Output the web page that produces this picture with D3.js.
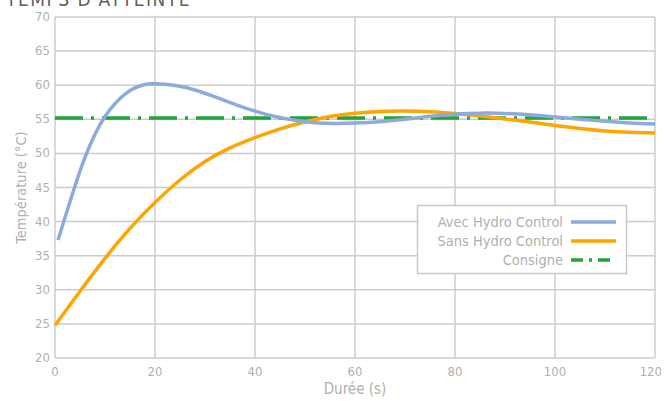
<!DOCTYPE html>
<html>
<head>
<meta charset="utf-8">
<script src="https://cdn.jsdelivr.net/npm/d3@7"></script>
<style>
    body { margin: 0; background: #fff; }
    text { font-family: "DejaVu Sans Condensed", "Liberation Sans Narrow", sans-serif; }
</style>
</head>
<body>
<script>
"use strict";

// values
let avecT = [0.6, 2, 4, 6, 8, 10, 12, 14, 16, 18, 20, 24, 28, 32, 36, 40, 44, 48, 52, 56, 60, 65, 70, 75, 80, 85, 90, 95, 100, 105, 110, 115, 120];
let avecV = [37.3, 40.6, 45.2, 49.4, 52.8, 55.4, 57.3, 58.7, 59.6, 60.1, 60.2, 59.95, 59.3, 58.3, 57.2, 56.2, 55.4, 54.85, 54.5, 54.4, 54.45, 54.65, 55.0, 55.45, 55.75, 55.9, 55.85, 55.65, 55.35, 55.0, 54.7, 54.45, 54.3];

let sansT = [0, 5, 10, 15, 20, 25, 30, 35, 40, 45, 50, 55, 60, 65, 70, 75, 80, 85, 90, 95, 100, 105, 110, 115, 120];
let sansV = [24.8, 29.8, 34.6, 39.0, 42.8, 46.1, 48.8, 50.8, 52.3, 53.6, 54.6, 55.4, 55.9, 56.15, 56.2, 56.1, 55.85, 55.5, 55.05, 54.6, 54.1, 53.65, 53.3, 53.1, 53.0];

let consigneT = [0, 120];
let consigneV = [55.2, 55.2];

let xTicks = [0, 20, 40, 60, 80, 100, 120];
let yTicks = [20, 25, 30, 35, 40, 45, 50, 55, 60, 65, 70];

let seriesNames = ["Avec Hydro Control", "Sans Hydro Control", "Consigne"];

(function () {

    let width = 664, height = 401,
        margin = {top: 17, right: 9, bottom: 43, left: 55};

    let grey = "#b0b0b0", gridColor = "#cccccc";

    let svg = d3.select("body").append("svg")
        .attr("width", width)
        .attr("height", height);

    let x = d3.scaleLinear().domain([0, 120]).range([margin.left, width - margin.right]);
    let y = d3.scaleLinear().domain([20, 70]).range([height - margin.bottom, margin.top]);

    // title, cut off at the top like in the original
    svg.append("text")
        .attr("x", 6)
        .attr("y", 6)
        .attr("fill", "#606060")
        .style("font-size", "19px")
        .style("letter-spacing", "1.5px")
        .text("TEMPS D'ATTEINTE");

    // grid
    svg.append("g").selectAll("line")
        .data(yTicks)
        .enter().append("line")
        .attr("x1", x(0)).attr("x2", x(120))
        .attr("y1", d => y(d)).attr("y2", d => y(d))
        .attr("stroke", gridColor)
        .attr("stroke-width", 1.5);

    svg.append("g").selectAll("line")
        .data(xTicks)
        .enter().append("line")
        .attr("x1", d => x(d)).attr("x2", d => x(d))
        .attr("y1", y(20)).attr("y2", y(70))
        .attr("stroke", gridColor)
        .attr("stroke-width", 1.5);

    // tick labels
    svg.append("g").selectAll("text")
        .data(yTicks)
        .enter().append("text")
        .attr("x", x(0) - 5)
        .attr("y", d => y(d) + 4)
        .attr("text-anchor", "end")
        .attr("fill", grey)
        .style("font-size", "13px")
        .text(d => d);

    svg.append("g").selectAll("text")
        .data(xTicks)
        .enter().append("text")
        .attr("x", d => x(d))
        .attr("y", y(20) + 18)
        .attr("text-anchor", d => d === 120 ? "end" : "middle")
        .attr("dx", d => d === 120 ? 7 : 0)
        .attr("fill", grey)
        .style("font-size", "13px")
        .text(d => d);

    svg.append("text")
        .attr("x", (x(0) + x(120)) / 2)
        .attr("y", 394)
        .attr("text-anchor", "middle")
        .attr("fill", grey)
        .style("font-size", "15px")
        .text("Durée (s)");

    svg.append("text")
        .attr("transform", "translate(26," + (y(45)) + ") rotate(-90)")
        .attr("text-anchor", "middle")
        .attr("fill", grey)
        .style("font-size", "14.5px")
        .text("Température (°C)");

    let line = d3.line()
        .x(d => x(d[0]))
        .y(d => y(d[1]))
        .curve(d3.curveNatural);

    let series = [
        {t: avecT, v: avecV, color: "#8eaadb", dash: null},
        {t: sansT, v: sansV, color: "#ffa500", dash: null},
        {t: consigneT, v: consigneV, color: "#21a43a", dash: "28,8,3,8"}
    ];

    // consigne first so the curves go over it
    [series[2], series[1], series[0]].forEach(function (s) {
        svg.append("path")
            .datum(d3.zip(s.t, s.v))
            .attr("d", line)
            .attr("fill", "none")
            .attr("stroke", s.color)
            .attr("stroke-width", 3.5)
            .attr("stroke-dasharray", s.dash);
    });

    // legend
    let lg = svg.append("g");
    lg.append("rect")
        .attr("x", 417.5).attr("y", 205.5)
        .attr("width", 209).attr("height", 68)
        .attr("fill", "#fff")
        .attr("stroke", "#c8c8c8")
        .attr("stroke-width", 1.5);

    series.forEach(function (s, i) {
        let yy = 222 + i * 19;
        lg.append("text")
            .attr("x", 563)
            .attr("y", yy + 5)
            .attr("text-anchor", "end")
            .attr("fill", grey)
            .style("font-size", "14.5px")
            .text(seriesNames[i]);
        lg.append("line")
            .attr("x1", 571).attr("x2", 616)
            .attr("y1", yy).attr("y2", yy)
            .attr("stroke", s.color)
            .attr("stroke-width", 3.5)
            .attr("stroke-dasharray", s.dash ? "12,6,3,6" : null);
    });

})();
</script>
</body>
</html>
